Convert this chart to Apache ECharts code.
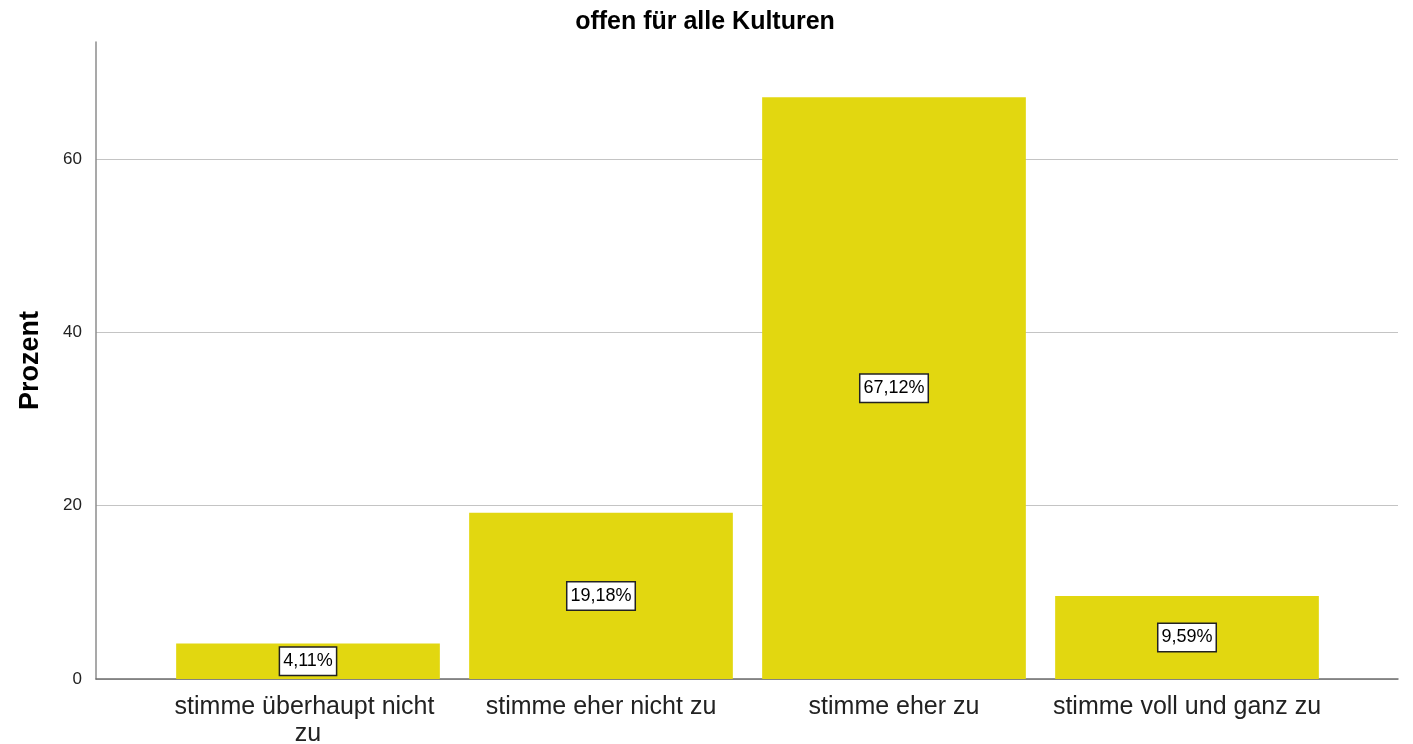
<!DOCTYPE html>
<html><head><meta charset="utf-8">
<script src="https://cdn.jsdelivr.net/npm/echarts@6/dist/echarts.min.js"></script>
<style>html,body{margin:0;padding:0;background:#fff}#c{width:1413px;height:744px}</style>
</head><body><div id="c"></div>
<script>
const categories = ["stimme überhaupt nicht zu", "stimme eher nicht zu", "stimme eher zu", "stimme voll und ganz zu"];
const values = [4.11, 19.18, 67.12, 9.59];
const titleText = "offen für alle Kulturen";
const yName = "Prozent";

const FONT = "'Liberation Sans', Arial, sans-serif";
const chart = echarts.init(document.getElementById('c'));
const yMax = 73.5;
chart.setOption({
  animation: false,
  title: { text: titleText, left: 700, textAlign: 'center', top: 5,
    textStyle: { fontFamily: FONT, fontSize: 25, fontWeight: 'bold', color: '#000' } },
  grid: [
    { left: 96, width: 1302, top: 42, bottom: 65, containLabel: false, outerBoundsMode: 'none' },
    { left: 161.5, width: 1172, top: 42, bottom: 65, containLabel: false, outerBoundsMode: 'none' }
  ],
  xAxis: [
    { gridIndex: 0, type: 'value', min: 0, max: 1, axisLine: { show: true, onZero: false, lineStyle: { color: '#6e6e6e', width: 1.5 } },
      axisTick: { show: false }, axisLabel: { show: false }, splitLine: { show: false } },
    { gridIndex: 1, type: 'category', data: categories,
      axisLine: { show: false }, axisTick: { show: false },
      axisLabel: { interval: 0, margin: 15, width: 278, overflow: 'break', fontFamily: FONT, fontSize: 25, color: '#222', lineHeight: 27 } }
  ],
  yAxis: [
    { gridIndex: 0, type: 'value', min: 0, max: yMax, interval: 20,
      name: yName, nameLocation: 'middle', nameGap: 52,
      nameTextStyle: { fontFamily: FONT, fontSize: 27, fontWeight: 'bold', color: '#000' },
      axisLine: { show: true, lineStyle: { color: '#8c8c8c', width: 1.5 } },
      axisTick: { show: false },
      axisLabel: { fontFamily: FONT, fontSize: 17, color: '#222', margin: 14, showMaxLabel: false },
      splitLine: { show: true, showMaxLine: false, lineStyle: { color: '#c4c4c4', width: 1.2 } } },
    { gridIndex: 1, type: 'value', min: 0, max: yMax, show: false, splitLine: { show: false } }
  ],
  series: [{
    type: 'bar', xAxisIndex: 1, yAxisIndex: 1, data: values,
    barCategoryGap: '10%',
    itemStyle: { color: '#e2d710' },
    label: { show: true, position: 'inside',
      formatter: p => p.value.toFixed(2).replace('.', ',') + '%',
      fontFamily: FONT, fontSize: 18, color: '#000',
      backgroundColor: '#fff', borderColor: '#222', borderWidth: 1.5,
      padding: [5, 3, 4, 3] }
  }]
});
</script></body></html>
